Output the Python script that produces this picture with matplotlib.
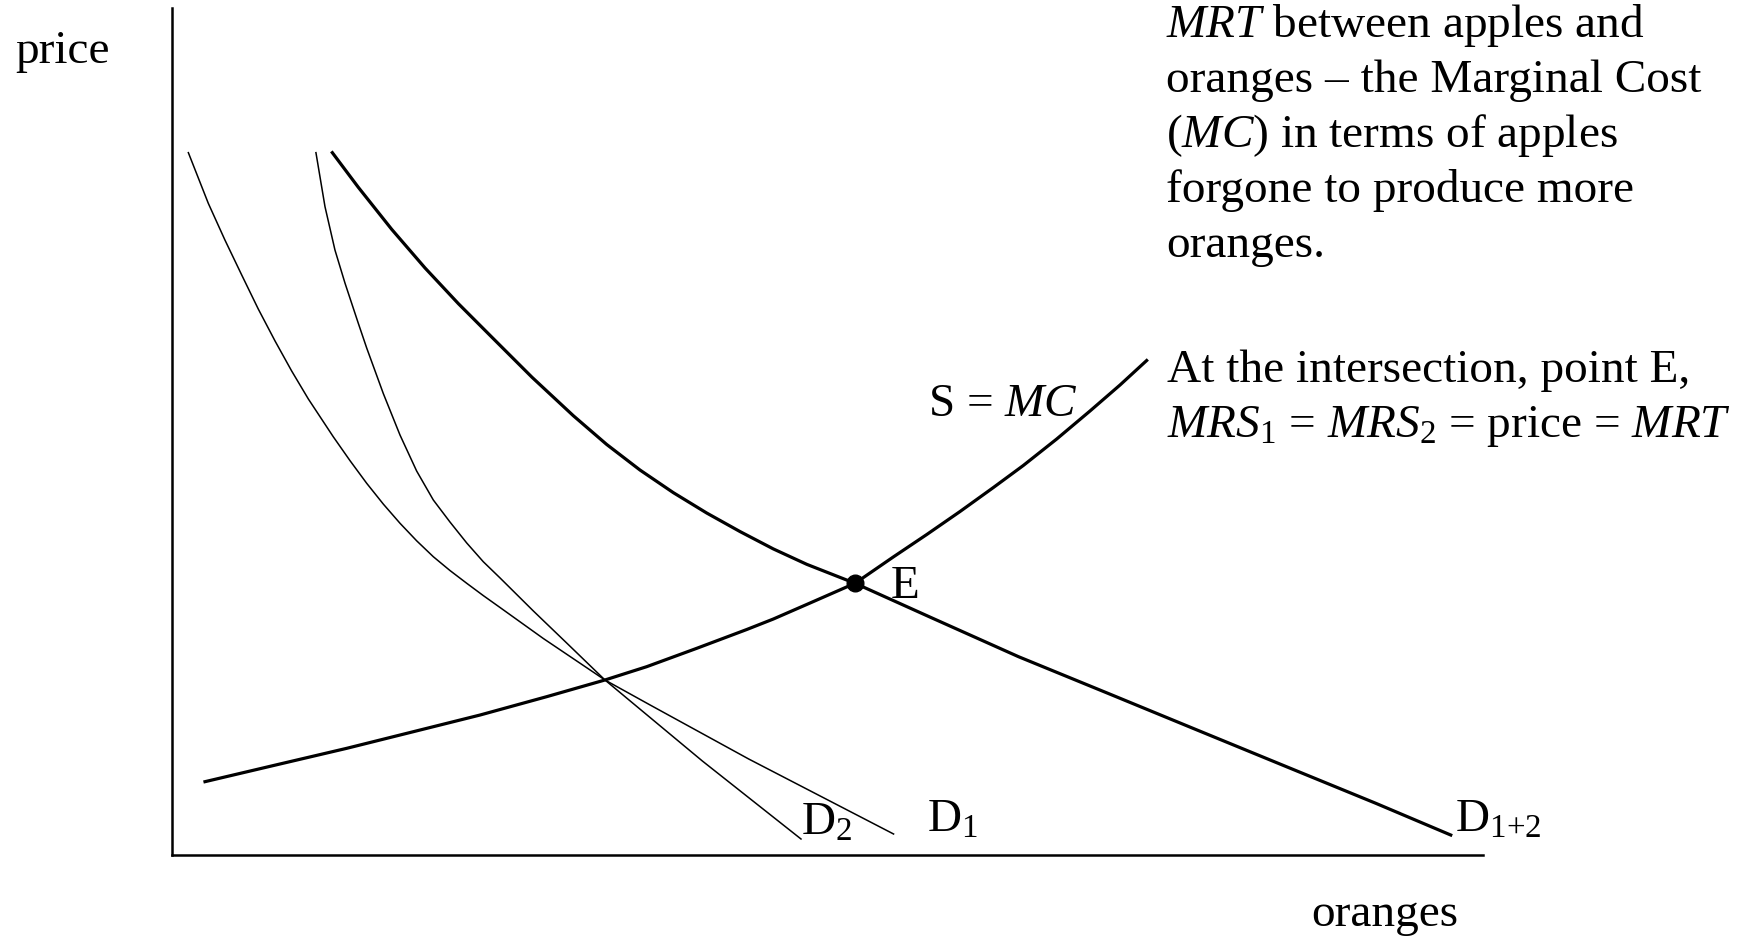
import matplotlib
matplotlib.use("Agg")
import matplotlib.pyplot as plt

plt.rcParams['font.family'] = ['Liberation Serif', 'DejaVu Serif']
plt.rcParams['mathtext.fontset'] = 'custom'
plt.rcParams['mathtext.rm'] = 'Liberation Serif'
plt.rcParams['mathtext.it'] = 'Liberation Serif:italic'
plt.rcParams['mathtext.bf'] = 'Liberation Serif:bold'

# ---- data (oranges on x, price on y; axis units 0..100) ----
d1_x = [1.27, 2.79, 4.06, 5.34, 6.60, 7.88, 9.15, 10.42, 12.32, 13.60, 14.87, 16.14,
        17.41, 18.68, 19.95, 21.22, 22.50, 23.76, 25.04, 28.34, 33.04, 36.48, 44.00,
        55.05]
d1_y = [82.95, 76.97, 72.63, 68.50, 64.49, 60.71, 57.16, 53.86, 49.40, 46.57, 43.90,
        41.44, 39.18, 37.11, 35.23, 33.60, 32.09, 30.64, 29.23, 25.57, 20.67, 17.72,
        11.34, 2.48]

d2_x = [11.00, 11.69, 12.45, 13.22, 14.23, 14.87, 16.14, 17.41, 18.68, 19.95, 21.22,
        22.50, 23.76, 25.04, 27.58, 30.12, 33.04, 40.47, 47.99]
d2_y = [82.95, 76.57, 71.45, 67.52, 62.80, 59.88, 54.49, 49.60, 45.35, 41.93, 39.33,
        36.85, 34.64, 32.72, 28.82, 25.04, 20.67, 11.10, 1.89]

d12_x = [12.25, 14.23, 16.78, 19.32, 21.86, 24.40, 27.48, 30.63, 33.17, 35.71, 38.25,
         40.80, 43.34, 45.88, 48.43, 52.11, 57.77, 64.58, 71.39, 78.20, 85.01, 91.82,
         97.54]
d12_y = [82.95, 78.86, 73.89, 69.33, 65.12, 61.18, 56.42, 51.88, 48.49, 45.47, 42.80,
         40.39, 38.20, 36.15, 34.33, 32.09, 28.14, 23.42, 19.10, 14.76, 10.43, 6.11,
         2.36]

s_x = [2.54, 8.26, 13.35, 18.42, 23.51, 28.60, 33.04, 36.22, 40.04, 43.85, 45.88,
       48.68, 52.11, 55.03, 57.58, 60.12, 62.66, 64.94, 67.49, 70.03, 72.32, 74.35]
s_y = [8.66, 10.75, 12.60, 14.56, 16.53, 18.70, 20.67, 22.24, 24.41, 26.63, 27.87,
       29.76, 32.09, 35.20, 37.85, 40.57, 43.40, 46.00, 49.13, 52.44, 55.51, 58.40]

e_point = (52.11, 32.09)

x_label = "oranges"
y_label = "price"
curve_labels = [r"$\mathrm{D}_2$", r"$\mathrm{D}_1$", r"$\mathrm{D}_{1{+}2}$"]
supply_label = r"S = $MC$"
point_label = "E"
note1 = [r"$MRT$ between apples and",
         "oranges \u2013 the Marginal Cost",
         r"($MC$) in terms of apples",
         "forgone to produce more",
         "oranges."]
note2 = ["At the intersection, point E,",
         r"$MRS_1$ = $MRS_2$ = price = $MRT$"]

# ---- figure ----
W, H = 1750, 936
fig = plt.figure(figsize=(W / 100, H / 100), dpi=100)
ax = fig.add_axes([171.7 / W, (H - 855) / H, 1311.3 / W, 846.7 / H])
ax.set_xlim(0, 100)
ax.set_ylim(0, 100)
for sp in ['top', 'right']:
    ax.spines[sp].set_visible(False)
for sp in ['left', 'bottom']:
    ax.spines[sp].set_linewidth(1.8)
ax.set_xticks([])
ax.set_yticks([])

ax.plot(d1_x, d1_y, color='black', lw=1.1, solid_joinstyle='round')
ax.plot(d2_x, d2_y, color='black', lw=1.1, solid_joinstyle='round')
ax.plot(d12_x, d12_y, color='black', lw=2.3, solid_joinstyle='round')
ax.plot(s_x, s_y, color='black', lw=2.3, solid_joinstyle='round')
ax.plot([e_point[0]], [e_point[1]], 'o', color='black', markersize=12)

FS = 34


def ftext(px, py, s, **kw):
    fig.text(px / W, 1 - py / H, s, fontsize=FS, ha='left', va='baseline', **kw)


ftext(15, 63, y_label)
ftext(1311, 926, x_label)
ftext(801, 835, curve_labels[0])
ftext(927, 832, curve_labels[1])
ftext(1455, 832, curve_labels[2])
ftext(928, 416, supply_label)
ftext(891, 598, point_label)

for i, line in enumerate(note1):
    ftext(1166, 36.7 + 55 * i, line)
for i, line in enumerate(note2):
    ftext(1167, 381.7 + 55 * i, line)

fig.savefig("out.png", dpi=100)
